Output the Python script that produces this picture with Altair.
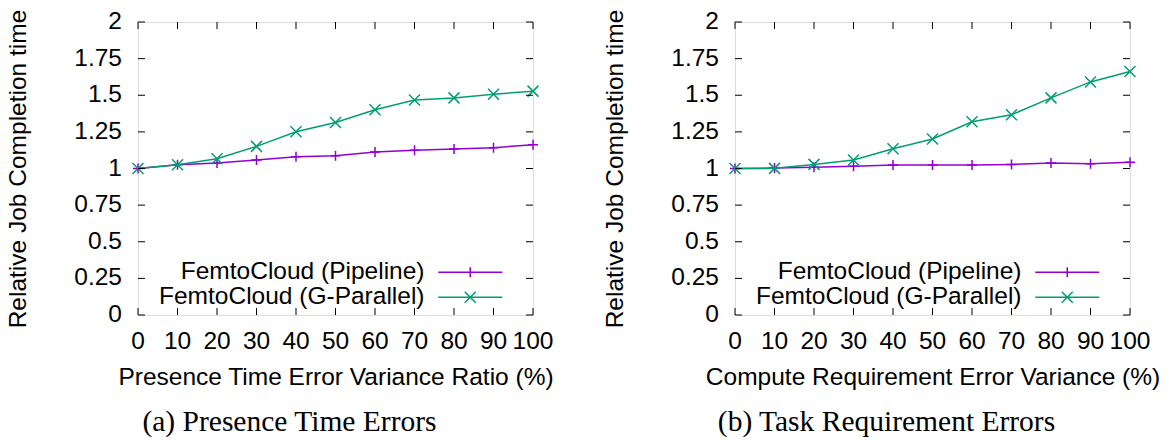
import altair as alt
import pandas as pd

# ---- data ----
x_vals = [0, 10, 20, 30, 40, 50, 60, 70, 80, 90, 100]
series_names = ["FemtoCloud (Pipeline)", "FemtoCloud (G-Parallel)"]

left_pipeline = [1.0, 1.026, 1.037, 1.058, 1.081, 1.087, 1.112, 1.124, 1.133, 1.142, 1.162]
left_gparallel = [1.0, 1.026, 1.067, 1.151, 1.251, 1.314, 1.401, 1.467, 1.482, 1.507, 1.528]
right_pipeline = [1.0, 1.003, 1.008, 1.015, 1.024, 1.024, 1.024, 1.028, 1.037, 1.033, 1.042]
right_gparallel = [1.0, 1.001, 1.028, 1.058, 1.135, 1.201, 1.319, 1.367, 1.482, 1.591, 1.662]

x_ticks = [0, 10, 20, 30, 40, 50, 60, 70, 80, 90, 100]
x_tick_labels = ["0", "10", "20", "30", "40", "50", "60", "70", "80", "90", "100"]
y_ticks = [0, 0.25, 0.5, 0.75, 1, 1.25, 1.5, 1.75, 2]
y_tick_labels = ["0", "0.25", "0.5", "0.75", "1", "1.25", "1.5", "1.75", "2"]

y_title = "Relative Job Completion time"
x_titles = ["Presence Time Error Variance Ratio (%)", "Compute Requirement Error Variance (%)"]
captions = ["(a) Presence Time Errors", "(b) Task Requirement Errors"]

colors = ["#9400D3", "#009E73"]
SANS = "Liberation Sans"
SERIF = "Liberation Serif"
FS = 24.5

marker_paths = ["M-1,0H1M0,-1V1", "M-1,-1L1,1M-1,1L1,-1"]
marker_sizes = [100, 121]
# legend sample: a 64 px line with the series marker in its middle (scale = sqrt(100)/2 = 5 px)
legend_paths = ["M-6.4,0H6.4M0,-1V1",
                "M-6.4,0H6.4M-1.1,-1.1L1.1,1.1M-1.1,1.1L1.1,-1.1"]

W, H = 395, 293

x_axis = alt.Axis(values=x_ticks, labels=False, ticks=False, tickSize=0, domain=False, grid=False,
                  titleFont=SANS, titleFontSize=FS, titleFontWeight="normal",
                  titleColor="black", titlePadding=50)
y_axis = alt.Axis(values=y_ticks, labels=False, ticks=False, tickSize=0, domain=False, grid=False,
                  titleFont=SANS, titleFontSize=FS, titleFontWeight="normal",
                  titleColor="black", titlePadding=108)
xs = alt.Scale(domain=[0, 100], nice=False, zero=False)
ys = alt.Scale(domain=[0, 2], nice=False, zero=False)


def panel(pipeline, gparallel, xtitle, caption, cap_dx):
    df = pd.concat([
        pd.DataFrame({"x": x_vals, "y": pipeline, "series": series_names[0]}),
        pd.DataFrame({"x": x_vals, "y": gparallel, "series": series_names[1]}),
    ])

    def X(f):
        return alt.X(f, scale=xs, axis=x_axis, title=xtitle)

    def Y(f):
        return alt.Y(f, scale=ys, axis=y_axis, title=y_title)

    base = alt.Chart(df)
    layers = []
    for i, name in enumerate(series_names):
        sub = base.transform_filter(alt.datum.series == name)
        layers.append(sub.mark_line(color=colors[i], strokeWidth=1.5)
                      .encode(x=X("x:Q"), y=Y("y:Q")))
        layers.append(sub.mark_point(shape=marker_paths[i], size=marker_sizes[i], filled=False,
                                     color=colors[i], strokeWidth=1.5, opacity=1)
                      .encode(x=X("x:Q"), y=Y("y:Q")))
    leg = alt.Legend(orient="none", legendX=10, legendY=238, title=None, padding=0,
                     labelFont=SANS, labelFontSize=FS, labelColor="black", labelLimit=500,
                     labelAlign="right", labelOffset={"expr": "-58"}, symbolOffset=310,
                     symbolSize=100, symbolStrokeWidth=1.5, rowPadding=0)
    layers.append(base.transform_filter("false").mark_point(filled=False, strokeWidth=1.5, opacity=1)
                  .encode(x=X("x:Q"), y=Y("y:Q"),
                          color=alt.Color("series:N", scale=alt.Scale(domain=series_names, range=colors), legend=leg),
                          shape=alt.Shape("series:N", scale=alt.Scale(domain=series_names, range=legend_paths), legend=leg)))
    xt = alt.Chart(pd.DataFrame({"t": x_ticks, "lab": x_tick_labels}))
    yt = alt.Chart(pd.DataFrame({"t": y_ticks, "lab": y_tick_labels}))
    # inward tick marks on all four sides (gnuplot style)
    layers.append(xt.mark_rule(color="black", strokeWidth=1, y2Offset=-7)
                  .encode(x=X("t:Q"), y=alt.datum(0), y2=alt.datum(0)))
    layers.append(xt.mark_rule(color="black", strokeWidth=1, y2Offset=7)
                  .encode(x=X("t:Q"), y=alt.datum(2), y2=alt.datum(2)))
    layers.append(yt.mark_rule(color="black", strokeWidth=1, x2Offset=7)
                  .encode(y=Y("t:Q"), x=alt.datum(0), x2=alt.datum(0)))
    layers.append(yt.mark_rule(color="black", strokeWidth=1, x2Offset=-7)
                  .encode(y=Y("t:Q"), x=alt.datum(100), x2=alt.datum(100)))
    # tick labels
    layers.append(xt.mark_text(baseline="top", dy=15, font=SANS, fontSize=FS, color="black")
                  .encode(x=X("t:Q"), y=alt.datum(0), text="lab:N"))
    layers.append(yt.mark_text(align="right", baseline="middle", dx=-16, font=SANS, fontSize=FS,
                               color="black")
                  .encode(y=Y("t:Q"), x=alt.datum(0), text="lab:N"))
    return alt.layer(*layers).properties(
        width=W, height=H,
        title=alt.TitleParams(caption, orient="bottom", font=SERIF, fontSize=29.5,
                              fontWeight="normal", color="black", offset=19, dx=cap_dx,
                              anchor="middle", frame="group"))


left = panel(left_pipeline, left_gparallel, x_titles[0], captions[0], -46)
right = panel(right_pipeline, right_gparallel, x_titles[1], captions[1], -46)

chart = alt.hconcat(left, right, spacing=47).resolve_scale(
    color="independent", shape="independent"
).resolve_legend(
    color="independent", shape="independent"
).properties(
    padding={"left": 4, "top": 8, "right": 2, "bottom": 0}
).configure_view(stroke="black", strokeWidth=1.3).configure(background="white")

chart.save("out.html", embed_options={"renderer": "svg", "actions": False})
